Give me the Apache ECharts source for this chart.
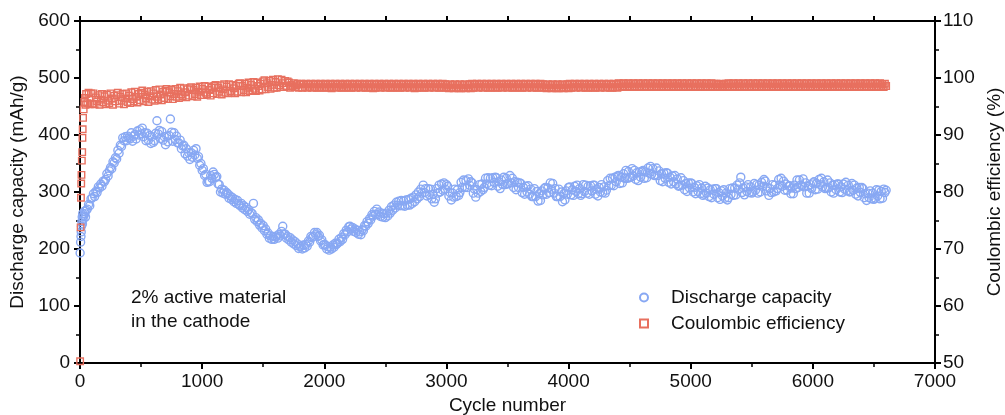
<!DOCTYPE html>
<html>
<head>
<meta charset="utf-8">
<script src="https://cdn.jsdelivr.net/npm/echarts@6/dist/echarts.min.js"></script>
<style>
  html, body { margin: 0; padding: 0; background: #fff; }
  #chart { width: 1005px; height: 415px; }
</style>
</head>
<body>
<div id="chart"></div>
<script>
// cycle numbers (sampled) shared by both series
const cycles = [
  1, 5, 8, 10, 12, 15, 18, 20, 22, 25, 30, 35, 40, 45, 50, 60, 70, 80, 90, 100,
  110, 120, 130, 140, 150, 160, 170, 180, 190, 200,
  210, 220, 230, 240, 250, 260, 270, 280, 290, 300,
  310, 320, 330, 340, 350, 360, 370, 380, 390, 400,
  410, 420, 430, 440, 450, 460, 470, 480, 490, 500,
  510, 520, 530, 540, 550, 560, 570, 580, 590, 600,
  610, 620, 630, 640, 650, 660, 670, 680, 690, 700,
  710, 720, 730, 740, 750, 760, 770, 780, 790, 800,
  810, 820, 830, 840, 850, 860, 870, 880, 890, 900,
  910, 920, 930, 940, 950, 960, 970, 980, 990, 1000,
  1010, 1020, 1030, 1040, 1050, 1060, 1070, 1080, 1090, 1100,
  1110, 1120, 1130, 1140, 1150, 1160, 1170, 1180, 1190, 1200,
  1210, 1220, 1230, 1240, 1250, 1260, 1270, 1280, 1290, 1300,
  1310, 1320, 1330, 1340, 1350, 1360, 1370, 1380, 1390, 1400,
  1410, 1420, 1430, 1440, 1450, 1460, 1470, 1480, 1490, 1500,
  1510, 1520, 1530, 1540, 1550, 1560, 1570, 1580, 1590, 1600,
  1610, 1620, 1630, 1640, 1650, 1660, 1670, 1680, 1690, 1700,
  1710, 1720, 1730, 1740, 1750, 1760, 1770, 1780, 1790, 1800,
  1810, 1820, 1830, 1840, 1850, 1860, 1870, 1880, 1890, 1900,
  1910, 1920, 1930, 1940, 1950, 1960, 1970, 1980, 1990, 2000,
  2010, 2020, 2030, 2040, 2050, 2060, 2070, 2080, 2090, 2100,
  2110, 2120, 2130, 2140, 2150, 2160, 2170, 2180, 2190, 2200,
  2210, 2220, 2230, 2240, 2250, 2260, 2270, 2280, 2290, 2300,
  2310, 2320, 2330, 2340, 2350, 2360, 2370, 2380, 2390, 2400,
  2410, 2420, 2430, 2440, 2450, 2460, 2470, 2480, 2490, 2500,
  2510, 2520, 2530, 2540, 2550, 2560, 2570, 2580, 2590, 2600,
  2610, 2620, 2630, 2640, 2650, 2660, 2670, 2680, 2690, 2700,
  2710, 2720, 2730, 2740, 2750, 2760, 2770, 2780, 2790, 2800,
  2810, 2820, 2830, 2840, 2850, 2860, 2870, 2880, 2890, 2900,
  2910, 2920, 2930, 2940, 2950, 2960, 2970, 2980, 2990, 3000,
  3010, 3020, 3030, 3040, 3050, 3060, 3070, 3080, 3090, 3100,
  3110, 3120, 3130, 3140, 3150, 3160, 3170, 3180, 3190, 3200,
  3210, 3220, 3230, 3240, 3250, 3260, 3270, 3280, 3290, 3300,
  3310, 3320, 3330, 3340, 3350, 3360, 3370, 3380, 3390, 3400,
  3410, 3420, 3430, 3440, 3450, 3460, 3470, 3480, 3490, 3500,
  3510, 3520, 3530, 3540, 3550, 3560, 3570, 3580, 3590, 3600,
  3610, 3620, 3630, 3640, 3650, 3660, 3670, 3680, 3690, 3700,
  3710, 3720, 3730, 3740, 3750, 3760, 3770, 3780, 3790, 3800,
  3810, 3820, 3830, 3840, 3850, 3860, 3870, 3880, 3890, 3900,
  3910, 3920, 3930, 3940, 3950, 3960, 3970, 3980, 3990, 4000,
  4010, 4020, 4030, 4040, 4050, 4060, 4070, 4080, 4090, 4100,
  4110, 4120, 4130, 4140, 4150, 4160, 4170, 4180, 4190, 4200,
  4210, 4220, 4230, 4240, 4250, 4260, 4270, 4280, 4290, 4300,
  4310, 4320, 4330, 4340, 4350, 4360, 4370, 4380, 4390, 4400,
  4410, 4420, 4430, 4440, 4450, 4460, 4470, 4480, 4490, 4500,
  4510, 4520, 4530, 4540, 4550, 4560, 4570, 4580, 4590, 4600,
  4610, 4620, 4630, 4640, 4650, 4660, 4670, 4680, 4690, 4700,
  4710, 4720, 4730, 4740, 4750, 4760, 4770, 4780, 4790, 4800,
  4810, 4820, 4830, 4840, 4850, 4860, 4870, 4880, 4890, 4900,
  4910, 4920, 4930, 4940, 4950, 4960, 4970, 4980, 4990, 5000,
  5010, 5020, 5030, 5040, 5050, 5060, 5070, 5080, 5090, 5100,
  5110, 5120, 5130, 5140, 5150, 5160, 5170, 5180, 5190, 5200,
  5210, 5220, 5230, 5240, 5250, 5260, 5270, 5280, 5290, 5300,
  5310, 5320, 5330, 5340, 5350, 5360, 5370, 5380, 5390, 5400,
  5410, 5420, 5430, 5440, 5450, 5460, 5470, 5480, 5490, 5500,
  5510, 5520, 5530, 5540, 5550, 5560, 5570, 5580, 5590, 5600,
  5610, 5620, 5630, 5640, 5650, 5660, 5670, 5680, 5690, 5700,
  5710, 5720, 5730, 5740, 5750, 5760, 5770, 5780, 5790, 5800,
  5810, 5820, 5830, 5840, 5850, 5860, 5870, 5880, 5890, 5900,
  5910, 5920, 5930, 5940, 5950, 5960, 5970, 5980, 5990, 6000,
  6010, 6020, 6030, 6040, 6050, 6060, 6070, 6080, 6090, 6100,
  6110, 6120, 6130, 6140, 6150, 6160, 6170, 6180, 6190, 6200,
  6210, 6220, 6230, 6240, 6250, 6260, 6270, 6280, 6290, 6300,
  6310, 6320, 6330, 6340, 6350, 6360, 6370, 6380, 6390, 6400,
  6410, 6420, 6430, 6440, 6450, 6460, 6470, 6480, 6490, 6500,
  6510, 6520, 6530, 6540, 6550, 6560, 6570, 6580, 6590, 6600
]

// discharge capacity, mAh/g (left axis)
const capacity = [
  193, 212, 222, 230, 240, 248, 256, 244, 262, 252, 258, 266, 262, 256, 268, 270, 278, 276, 288, 290,
  297, 292, 301, 299, 309, 307, 314, 310, 319, 318,
  322, 332, 328, 337, 343, 341, 353, 351, 360, 358,
  373, 368, 382, 380, 395, 390, 397, 390, 398, 395,
  393, 404, 389, 398, 401, 393, 407, 400, 409, 402,
  412, 397, 404, 390, 403, 391, 399, 385, 397, 387,
  390, 403, 425, 402, 408, 394, 406, 391, 397, 383,
  398, 388, 399, 428, 405, 389, 404, 392, 398, 386,
  386, 391, 376, 381, 382, 367, 376, 363, 369, 357,
  369, 361, 373, 365, 376, 359, 362, 347, 350, 338,
  341, 329, 331, 317, 319, 318, 329, 324, 335, 331,
  326, 327, 314, 313, 300, 305, 298, 303, 296, 299,
  297, 289, 293, 287, 290, 283, 287, 280, 285, 278,
  276, 280, 272, 276, 269, 273, 266, 269, 261, 264,
  262, 280, 252, 255, 248, 251, 242, 245, 237, 241,
  232, 235, 226, 228, 219, 223, 217, 222, 217, 221,
  223, 219, 226, 223, 231, 240, 226, 226, 219, 222,
  216, 220, 212, 216, 209, 213, 206, 209, 201, 204,
  205, 200, 207, 202, 208, 205, 214, 212, 222, 220,
  222, 229, 225, 229, 222, 224, 214, 216, 207, 208,
  207, 200, 204, 198, 203, 200, 207, 203, 210, 208,
  210, 217, 213, 220, 217, 227, 225, 233, 230, 239,
  240, 235, 238, 231, 235, 229, 233, 226, 230, 225,
  234, 232, 241, 240, 248, 245, 253, 251, 260, 258,
  266, 261, 270, 260, 265, 257, 263, 256, 262, 255,
  263, 258, 268, 263, 274, 268, 277, 272, 282, 277,
  284, 276, 285, 276, 284, 275, 286, 277, 287, 277,
  289, 280, 291, 283, 295, 288, 300, 292, 305, 298,
  312, 299, 306, 293, 306, 295, 305, 288, 296, 282,
  288, 306, 298, 312, 300, 314, 303, 316, 305, 313,
  310, 293, 299, 286, 298, 291, 305, 292, 304, 294,
  299, 317, 308, 321, 308, 320, 308, 323, 312, 318,
  316, 298, 305, 291, 304, 298, 313, 301, 314, 304,
  308, 324, 314, 325, 312, 324, 311, 325, 317, 326,
  325, 310, 318, 306, 321, 313, 326, 313, 324, 314,
  315, 329, 316, 324, 308, 318, 304, 317, 308, 316,
  315, 299, 308, 296, 310, 300, 311, 296, 305, 292,
  292, 306, 292, 301, 284, 297, 285, 302, 295, 306,
  308, 296, 307, 299, 316, 305, 315, 298, 306, 292,
  292, 305, 292, 300, 283, 297, 286, 302, 296, 308,
  309, 295, 304, 294, 310, 301, 312, 297, 306, 294,
  297, 313, 301, 312, 298, 310, 296, 311, 302, 312,
  312, 296, 305, 293, 308, 300, 313, 299, 309, 298,
  303, 320, 311, 324, 312, 324, 311, 326, 318, 328,
  329, 315, 326, 316, 332, 324, 338, 324, 336, 325,
  326, 341, 328, 338, 322, 334, 320, 335, 326, 336,
  338, 324, 335, 325, 342, 333, 345, 331, 341, 329,
  329, 342, 329, 337, 320, 332, 318, 333, 324, 334,
  333, 317, 326, 314, 328, 318, 329, 314, 323, 310,
  311, 325, 312, 320, 304, 315, 301, 316, 307, 316,
  315, 300, 308, 297, 311, 301, 313, 297, 307, 294,
  296, 310, 298, 307, 292, 304, 290, 305, 296, 306,
  306, 290, 299, 287, 302, 293, 304, 289, 298, 286,
  290, 306, 296, 307, 294, 307, 295, 312, 305, 316,
  326, 299, 307, 295, 309, 301, 313, 299, 309, 298,
  300, 315, 303, 313, 298, 312, 300, 317, 310, 322,
  319, 302, 308, 294, 306, 299, 313, 300, 312, 302,
  306, 322, 312, 324, 310, 319, 303, 314, 303, 310,
  311, 297, 307, 297, 312, 306, 321, 308, 321, 312,
  311, 323, 309, 316, 298, 310, 298, 313, 306, 316,
  318, 304, 315, 305, 322, 313, 324, 309, 318, 306,
  307, 321, 307, 316, 300, 312, 298, 313, 304, 314,
  314, 300, 309, 299, 314, 305, 317, 302, 312, 300,
  301, 315, 303, 312, 296, 307, 293, 308, 299, 308,
  306, 290, 297, 285, 298, 290, 302, 288, 298, 287,
  289, 304, 293, 303, 288, 301, 289, 305, 299, 303
]

// coulombic efficiency, % (right axis)
const efficiency = [
  50.3, 73.8, 79.0, 81.5, 83.0, 85.5, 87.0, 89.5, 91.0, 93.0, 94.5, 95.8, 96.5, 95.3, 97.2, 95.6, 97.4, 95.4, 97.3, 95.5,
  97.3, 95.4, 96.6, 95.9, 97.0, 95.3, 96.2, 97.2, 95.7, 96.8,
  95.4, 97.1, 96.0, 95.6, 97.3, 96.4, 95.3, 96.9, 95.9, 97.0,
  97.4, 95.5, 96.7, 96.0, 97.2, 95.4, 96.4, 97.3, 95.8, 96.9,
  95.6, 97.5, 96.3, 95.9, 97.6, 96.7, 95.7, 97.2, 96.1, 97.4,
  97.8, 95.9, 97.1, 96.4, 97.6, 95.8, 96.8, 97.7, 96.2, 97.3,
  96.0, 97.9, 96.7, 96.3, 98.0, 97.1, 96.1, 97.6, 96.5, 97.8,
  98.1, 96.3, 97.5, 96.8, 97.9, 96.3, 97.2, 98.1, 96.7, 97.7,
  96.5, 98.3, 97.1, 96.8, 98.2, 97.5, 96.6, 98.0, 96.9, 98.2,
  98.4, 96.8, 97.9, 97.2, 98.3, 96.7, 97.6, 98.5, 97.0, 98.1,
  97.0, 98.6, 97.4, 97.1, 98.5, 97.9, 96.9, 98.3, 97.3, 98.6,
  98.8, 97.2, 98.3, 97.6, 98.7, 97.1, 98.0, 98.9, 97.4, 98.5,
  97.3, 98.9, 97.7, 97.4, 98.8, 98.2, 97.3, 98.6, 97.6, 99.0,
  99.1, 97.5, 98.6, 97.9, 99.0, 97.5, 98.3, 99.2, 97.7, 98.8,
  97.8, 99.3, 98.1, 97.7, 99.2, 98.6, 97.8, 99.0, 98.0, 99.4,
  99.6, 98.0, 99.1, 98.4, 99.5, 98.1, 98.8, 99.7, 98.3, 99.3,
  98.3, 99.8, 98.7, 98.4, 99.7, 99.1, 98.4, 99.5, 98.6, 99.4,
  99.2, 98.3, 98.8, 98.5, 99.1, 98.4, 98.7, 99.0, 98.3, 98.9,
  99.0, 98.3, 98.9, 98.4, 99.0, 98.3, 98.9, 98.4, 99.0, 98.3,
  98.9, 98.4, 99.0, 98.3, 98.9, 98.3, 99.0, 98.4, 98.9, 98.3,
  99.0, 98.3, 98.9, 98.4, 99.0, 98.2, 98.9, 98.4, 99.0, 98.3,
  98.9, 98.4, 99.0, 98.3, 98.8, 98.3, 99.0, 98.4, 98.9, 98.3,
  99.0, 98.3, 98.9, 98.4, 99.0, 98.3, 98.9, 98.4, 99.0, 98.3,
  98.9, 98.4, 99.0, 98.3, 98.9, 98.3, 99.0, 98.4, 98.9, 98.2,
  99.0, 98.3, 98.9, 98.4, 99.0, 98.3, 98.8, 98.4, 99.0, 98.3,
  98.9, 98.4, 99.0, 98.3, 98.9, 98.3, 99.0, 98.4, 98.9, 98.3,
  99.0, 98.3, 98.9, 98.4, 99.0, 98.3, 98.9, 98.4, 99.0, 98.3,
  98.9, 98.4, 99.0, 98.2, 98.9, 98.3, 99.0, 98.4, 98.9, 98.3,
  99.0, 98.3, 98.9, 98.4, 99.0, 98.3, 98.9, 98.4, 99.0, 98.3,
  98.9, 98.4, 99.0, 98.3, 98.9, 98.3, 99.0, 98.4, 98.9, 98.3,
  98.8, 98.2, 98.9, 98.3, 98.8, 98.2, 98.9, 98.3, 98.8, 98.2,
  98.9, 98.2, 98.8, 98.3, 98.9, 98.2, 98.8, 98.3, 98.9, 98.2,
  99.0, 98.3, 98.9, 98.4, 99.0, 98.3, 98.9, 98.4, 99.0, 98.3,
  98.9, 98.4, 99.0, 98.3, 98.9, 98.3, 99.0, 98.4, 98.9, 98.3,
  99.0, 98.3, 98.9, 98.4, 99.0, 98.3, 98.9, 98.4, 99.0, 98.3,
  98.9, 98.4, 99.0, 98.3, 98.9, 98.3, 99.0, 98.4, 98.9, 98.3,
  99.0, 98.3, 98.9, 98.4, 99.0, 98.3, 98.9, 98.4, 99.0, 98.3,
  98.9, 98.4, 99.0, 98.3, 98.9, 98.3, 99.0, 98.4, 98.9, 98.3,
  98.8, 98.2, 98.9, 98.3, 98.8, 98.2, 98.9, 98.3, 98.8, 98.2,
  98.9, 98.2, 98.8, 98.3, 98.9, 98.2, 98.8, 98.3, 98.9, 98.2,
  99.0, 98.3, 98.9, 98.4, 99.0, 98.3, 98.9, 98.4, 99.0, 98.3,
  98.9, 98.4, 99.0, 98.3, 98.9, 98.3, 99.0, 98.4, 98.9, 98.3,
  99.0, 98.3, 98.9, 98.4, 99.0, 98.3, 98.9, 98.4, 99.0, 98.3,
  98.9, 98.4, 99.0, 98.3, 98.9, 98.3, 99.0, 98.4, 98.9, 98.3,
  99.1, 98.4, 99.0, 98.5, 99.1, 98.4, 99.0, 98.5, 99.1, 98.4,
  99.0, 98.5, 99.1, 98.4, 99.0, 98.4, 99.1, 98.5, 99.0, 98.4,
  99.1, 98.4, 99.0, 98.5, 99.1, 98.4, 99.0, 98.5, 99.1, 98.4,
  99.0, 98.5, 99.1, 98.4, 99.0, 98.4, 99.1, 98.5, 99.0, 98.4,
  99.1, 98.4, 99.0, 98.5, 99.1, 98.4, 99.0, 98.5, 99.1, 98.4,
  99.0, 98.5, 99.1, 98.4, 99.0, 98.4, 99.1, 98.5, 99.0, 98.4,
  99.1, 98.4, 99.0, 98.5, 99.1, 98.4, 99.0, 98.5, 99.1, 98.4,
  99.0, 98.5, 99.1, 98.4, 99.0, 98.4, 99.1, 98.5, 99.0, 98.4,
  99.0, 98.4, 98.9, 98.5, 99.0, 98.4, 98.9, 98.5, 99.0, 98.4,
  99.1, 98.4, 99.0, 98.5, 99.1, 98.4, 99.0, 98.5, 99.1, 98.4,
  99.0, 98.5, 99.1, 98.4, 99.0, 98.4, 99.1, 98.5, 99.0, 98.4,
  99.1, 98.4, 99.0, 98.5, 99.1, 98.4, 99.0, 98.5, 99.1, 98.4,
  99.0, 98.5, 99.1, 98.4, 99.0, 98.4, 99.1, 98.5, 99.0, 98.4,
  99.1, 98.4, 99.0, 98.5, 99.1, 98.4, 99.0, 98.5, 99.1, 98.4,
  99.0, 98.5, 99.1, 98.4, 99.0, 98.4, 99.1, 98.5, 99.0, 98.4,
  99.1, 98.4, 99.0, 98.5, 99.1, 98.4, 99.0, 98.5, 99.1, 98.4,
  99.0, 98.5, 99.1, 98.4, 99.0, 98.4, 99.1, 98.5, 99.0, 98.4,
  99.1, 98.4, 99.0, 98.5, 99.1, 98.4, 99.0, 98.5, 99.1, 98.4,
  99.0, 98.5, 99.1, 98.4, 99.0, 98.4, 99.1, 98.5, 99.0, 98.4,
  99.1, 98.4, 99.0, 98.5, 99.1, 98.4, 99.0, 98.5, 99.1, 98.4,
  99.0, 98.5, 99.1, 98.4, 99.0, 98.4, 99.1, 98.5, 99.0, 98.4,
  99.1, 98.5, 99.0, 98.4, 99.1, 98.5, 98.9, 98.4, 99.0, 98.6
]

const xTicks = { min: 0, max: 7000, step: 1000 }
const yLeftTicks = { min: 0, max: 600, step: 100 }
const yRightTicks = { min: 50, max: 110, step: 10 }

const seriesNames = ['Discharge capacity', 'Coulombic efficiency']
const noteLines = ['2% active material', 'in the cathode']

const FONT = 'Arial, "Liberation Sans", sans-serif'
const BLUE = '#88a8f3'
const RED = '#e8705f'
const INK = '#111'

const chart = echarts.init(document.getElementById('chart'))

const axisLine = { show: true, onZero: false, lineStyle: { color: '#000', width: 2 } }
const tick = (len) => ({ show: true, inside: false, length: len, lineStyle: { color: '#000', width: 2 } })
const minor = { show: true, splitNumber: 2, length: 4, lineStyle: { color: '#000', width: 1.5 } }
const label = { color: INK, fontSize: 19, fontFamily: FONT, formatter: (v) => String(v) }
const nameStyle = { color: INK, fontSize: 19, fontFamily: FONT }

chart.setOption({
  animation: false,
  textStyle: { fontFamily: FONT },
  grid: { left: 80, right: 70, top: 21, bottom: 52, outerBoundsMode: 'none', containLabel: false },
  legend: {
    orient: 'vertical',
    left: 634, top: 283,
    itemWidth: 8, itemHeight: 8, itemGap: 7,
    textStyle: { color: INK, fontSize: 19, lineHeight: 16, fontFamily: FONT, padding: [0, 0, 0, 18] },
    data: seriesNames,
  },
  graphic: [{
    type: 'text', left: 131, top: 286,
    style: { text: noteLines.join('\n'), fontSize: 19, fontFamily: FONT, lineHeight: 24, fill: INK },
  }],
  xAxis: [
    {
      type: 'value', min: xTicks.min, max: xTicks.max, interval: xTicks.step,
      name: 'Cycle number', nameLocation: 'middle', nameGap: 28, nameTextStyle: nameStyle,
      axisLine, axisTick: tick(6), minorTick: minor,
      axisLabel: { ...label, margin: 9 },
      splitLine: { show: false },
    },
    {
      type: 'value', position: 'top', min: xTicks.min, max: xTicks.max, interval: xTicks.step / 2,
      axisLine, axisTick: tick(5), axisLabel: { show: false }, splitLine: { show: false },
    },
  ],
  yAxis: [
    {
      type: 'value', min: yLeftTicks.min, max: yLeftTicks.max, interval: yLeftTicks.step,
      name: 'Discharge capacity (mAh/g)', nameLocation: 'middle', nameGap: 50, nameTextStyle: nameStyle,
      axisLine, axisTick: tick(6), minorTick: minor,
      axisLabel: { ...label, margin: 10 },
      splitLine: { show: false },
    },
    {
      type: 'value', position: 'right', min: yRightTicks.min, max: yRightTicks.max, interval: yRightTicks.step,
      name: 'Coulombic efficiency (%)', nameLocation: 'middle', nameGap: 47, nameRotate: 90, nameTextStyle: nameStyle,
      axisLine, axisTick: tick(6), minorTick: minor,
      axisLabel: { ...label, margin: 8 },
      splitLine: { show: false },
    },
  ],
  series: [
    {
      name: seriesNames[0], type: 'scatter', yAxisIndex: 0,
      symbol: 'circle', symbolSize: 8,
      itemStyle: { color: 'rgba(255,255,255,0)', borderColor: BLUE, borderWidth: 1.4, opacity: 1 },
      data: cycles.map((c, i) => [c, capacity[i]]),
    },
    {
      name: seriesNames[1], type: 'scatter', yAxisIndex: 1,
      symbol: 'rect', symbolSize: 6.5,
      itemStyle: { color: 'rgba(255,255,255,0)', borderColor: RED, borderWidth: 1.4, opacity: 1 },
      data: cycles.map((c, i) => [c, efficiency[i]]),
    },
  ],
})
</script>
</body>
</html>
